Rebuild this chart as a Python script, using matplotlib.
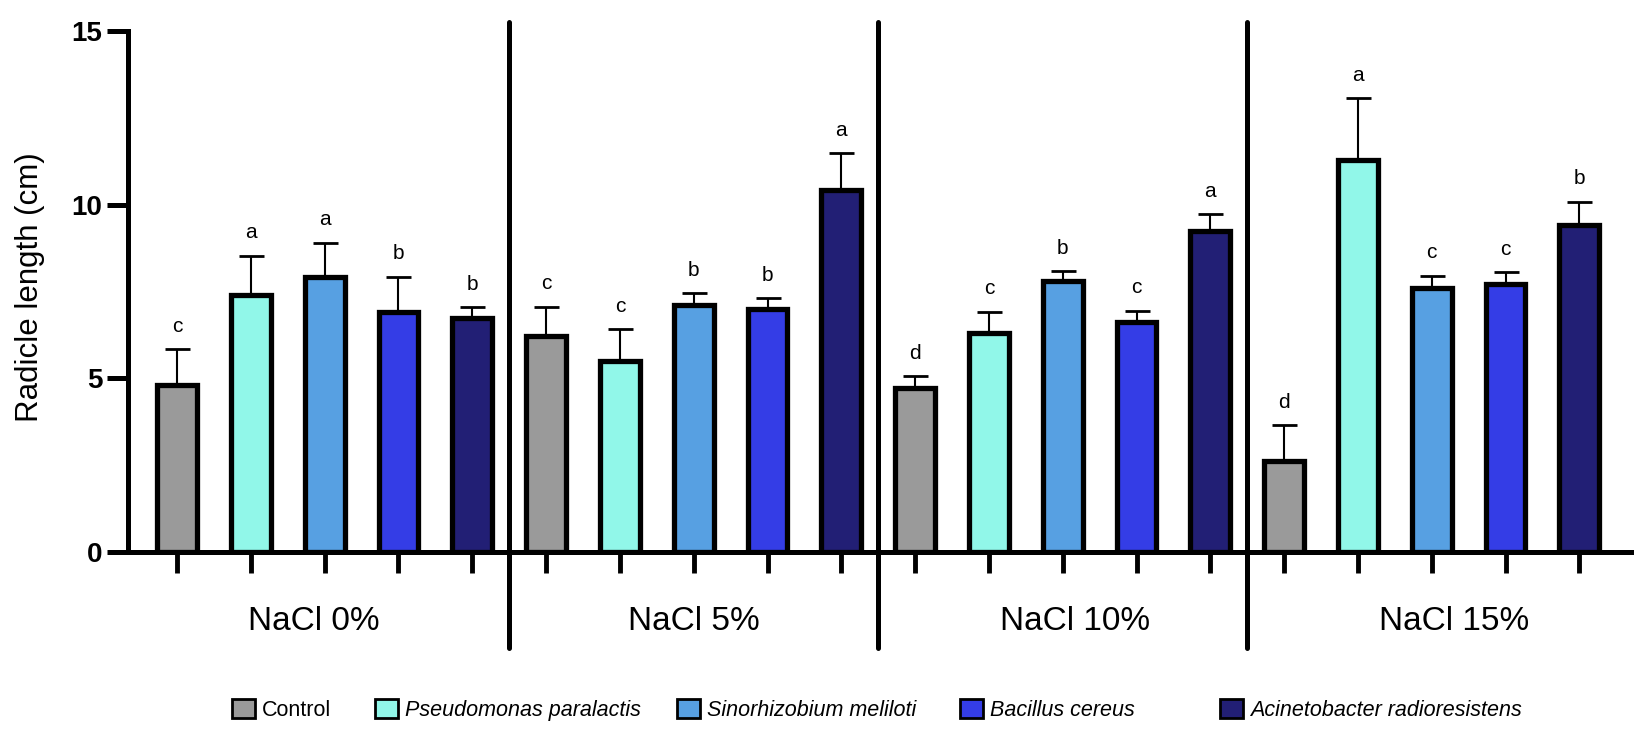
import numpy as np
import matplotlib.pyplot as plt
from matplotlib.patches import Patch

plt.rcParams['font.family'] = ['Liberation Sans', 'DejaVu Sans']

# ======================
# data
# ======================
groups = ['NaCl 0%', 'NaCl 5%', 'NaCl 10%', 'NaCl 15%']
strains = ['Control', 'Pseudomonas paralactis', 'Sinorhizobium meliloti',
           'Bacillus cereus', 'Acinetobacter radioresistens']
colors = ['#9a9a9a', '#91f7e9', '#57a0e2', '#343de6', '#221f75']

means_0 = [4.80, 7.40, 7.93, 6.92, 6.73]
means_5 = [6.21, 5.49, 7.11, 7.01, 10.41]
means_10 = [4.71, 6.30, 7.80, 6.62, 9.23]
means_15 = [2.61, 11.28, 7.61, 7.71, 9.41]

sd_0 = [1.04, 1.13, 0.98, 1.01, 0.32]
sd_5 = [0.85, 0.92, 0.34, 0.29, 1.08]
sd_10 = [0.35, 0.62, 0.29, 0.33, 0.49]
sd_15 = [1.04, 1.78, 0.35, 0.34, 0.68]

letters_0 = ['c', 'a', 'a', 'b', 'b']
letters_5 = ['c', 'c', 'b', 'b', 'a']
letters_10 = ['d', 'c', 'b', 'c', 'a']
letters_15 = ['d', 'a', 'c', 'c', 'b']

means = [means_0, means_5, means_10, means_15]
sds = [sd_0, sd_5, sd_10, sd_15]
letters = [letters_0, letters_5, letters_10, letters_15]

# ======================
# figure
# ======================
W, H = 1641, 732
fig = plt.figure(figsize=(W / 100, H / 100), dpi=100)
ax = fig.add_axes([128 / W, (H - 552) / H, (1631 - 128) / W, (552 - 31) / H])

n = len(strains)
for g in range(len(groups)):
    x = np.arange(n) + g * n
    ax.bar(x, means[g], width=0.54, color=colors, edgecolor='black',
           linewidth=3.8, zorder=3)
    ax.errorbar(x, means[g], yerr=[np.zeros(n), sds[g]], fmt='none',
                ecolor='black', elinewidth=1.5, capsize=9, capthick=2, zorder=2)
    for xi, m, s, lab in zip(x, means[g], sds[g], letters[g]):
        ax.annotate(lab, (xi, m + s), xytext=(0, 12.5), textcoords='offset points',
                    ha='center', va='baseline', fontsize=15)

# group separators
for g in range(1, len(groups)):
    xs = g * n - 0.5
    ax.plot([xs, xs], [15.26, -2.77], color='black', lw=3.6, clip_on=False,
            solid_capstyle='round', zorder=4)

# group labels
label_x = [1.85, 7.0, 12.17, 17.3]
for lx, name in zip(label_x, groups):
    ax.text(lx, -1.99, name, ha='center', va='center', fontsize=24, clip_on=False)

ax.set_xlim(-0.665, 19.7)
ax.set_ylim(0, 15)
ax.set_yticks([0, 5, 10, 15])
ax.set_xticks(np.arange(n * len(groups)))
ax.set_xticklabels([])
ax.tick_params(axis='x', length=15, width=3.5, direction='out')
ax.tick_params(axis='y', length=15, width=3.6, direction='out', pad=3.6, labelsize=20)
for t in ax.get_yticklabels():
    t.set_fontweight('bold')

for side in ['top', 'right']:
    ax.spines[side].set_visible(False)
for side in ['left', 'bottom']:
    ax.spines[side].set_linewidth(3.6)

ax.set_ylabel('Radicle length (cm)', fontsize=22.5)
ax.yaxis.set_label_coords(-0.055, 0.508)

# legend, one entry per box so the uneven spacing matches
legend_x = [232, 375, 677, 960, 1220]
for lx, name, c in zip(legend_x, strains, colors):
    leg = fig.legend([Patch(facecolor=c, edgecolor='black', linewidth=2)], [name],
                     loc='center left', bbox_to_anchor=(lx / W, 1 - 710 / H),
                     frameon=False, fontsize=15.5, handlelength=1.05,
                     handleheight=1.0, handletextpad=0.33, borderpad=0,
                     borderaxespad=0)
    if name != 'Control':
        for t in leg.get_texts():
            t.set_fontstyle('italic')

fig.savefig('out.png', dpi=100)
